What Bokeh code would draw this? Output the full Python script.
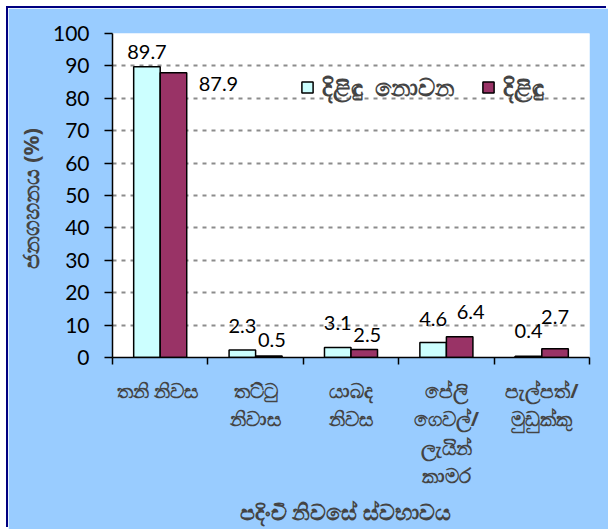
from bokeh.plotting import figure
from bokeh.models import (ColumnDataSource, Range1d, LinearAxis,
                          FixedTicker, Legend, LegendItem)
from bokeh.transform import dodge
from bokeh.embed import file_html
from bokeh.resources import INLINE

# ---- data ----
categories = ["තනි  නිවස", "තට්ටු\nනිවාස", "යාබද\nනිවස",
              "පේලි\nගෙවල්/\nලැයින්\nකාමර", "පැල්පත්/\nමුඩුක්කු"]
not_poor = [89.7, 2.3, 3.1, 4.6, 0.4]
poor = [87.9, 0.5, 2.5, 6.4, 2.7]
series_names = ["දිළිඳු  නොවන", "දිළිඳු"]
y_ticks = [0, 10, 20, 30, 40, 50, 60, 70, 80, 90, 100]
y_title = "ජනගහනය  (%)"
x_title = "පදිංචි  නිවසේ  ස්වභාවය"

# label nudges (screen px) for value labels
np_dx = [0, 0, 0, 0, 0]
np_dy = [-15, -24, -24, -24, -25]
p_dx = [45, 3, 3, 11, 0]
p_dy = [11, -16, -14, -25, -32]

NUM_FONT = "Lato"
SI_FONT = "Noto Sans"

n = len(categories)
centers = [i + 0.5 for i in range(n)]
bounds = list(range(n + 1))

src = ColumnDataSource(dict(
    xc=centers, not_poor=not_poor, poor=poor,
    np_lbl=[f"{v:.1f}" for v in not_poor], p_lbl=[f"{v:.1f}" for v in poor],
    np_dx=np_dx, np_dy=np_dy, p_dx=p_dx, p_dy=p_dy,
))

p = figure(x_range=Range1d(0, n), y_range=Range1d(0, 100),
           width=600, height=521, output_backend="svg", toolbar_location=None,
           x_axis_location=None, y_axis_location="left",
           min_border_left=104, min_border_top=25, min_border_right=19, min_border_bottom=171,
           background_fill_color="white", border_fill_color="#99CCFF",
           outline_line_color=None)
p.styles = {"margin-left": "8px", "margin-top": "8px",
            "box-shadow": "-2px -2px 0 0 #000080"}

# y axis
ya = p.yaxis[0]
ya.ticker = FixedTicker(ticks=y_ticks, minor_ticks=[])
ya.major_label_text_font = NUM_FONT
ya.major_label_text_font_size = "21px"
ya.major_label_text_color = "black"
ya.axis_line_width = 1.5
ya.axis_line_color = "black"
ya.major_tick_line_width = 1.5
ya.major_tick_out = 8
ya.major_tick_in = 0
ya.minor_tick_line_color = None
ya.major_label_standoff = 15
ya.axis_label = y_title
ya.axis_label_text_font = SI_FONT
ya.axis_label_text_font_size = "22px"
ya.axis_label_text_font_style = "bold"
ya.axis_label_standoff = 5

# grid
p.xgrid.visible = False
p.ygrid.ticker = FixedTicker(ticks=y_ticks[1:])
p.ygrid.grid_line_color = "#8c8c8c"
p.ygrid.grid_line_dash = "4 5"
p.ygrid.grid_line_width = 2

# bottom axis: labels at category centres, boundary ticks as minor ticks
xa = LinearAxis(ticker=FixedTicker(ticks=centers, minor_ticks=bounds),
                major_label_overrides={c: lab for c, lab in zip(centers, categories)},
                axis_line_color="black", axis_line_width=1.5,
                major_tick_line_color=None,
                minor_tick_line_color="black", minor_tick_line_width=1.5,
                minor_tick_out=7, minor_tick_in=0,
                major_label_text_font=SI_FONT,
                major_label_text_font_size="20px",
                major_label_text_font_style="bold",
                major_label_text_line_height=1.06,
                major_label_standoff=12,
                axis_label=x_title,
                axis_label_text_font=SI_FONT,
                axis_label_text_font_size="22px",
                axis_label_text_font_style="bold",
                axis_label_standoff=4)
p.add_layout(xa, "below")

# bars
bw = 0.278
r1 = p.vbar(x=dodge("xc", -bw / 2), top="not_poor", width=bw,
            fill_color="#CCFFFF", line_color="black", line_width=1.5, source=src)
r2 = p.vbar(x=dodge("xc", bw / 2), top="poor", width=bw,
            fill_color="#993366", line_color="black", line_width=1.5, source=src)

# value labels
p.text(x=dodge("xc", -bw / 2), y="not_poor", text="np_lbl",
       x_offset="np_dx", y_offset="np_dy", text_align="center", text_baseline="middle",
       text_font_size="20px", text_font={"value": NUM_FONT}, text_color="black", source=src)
p.text(x=dodge("xc", bw / 2), y="poor", text="p_lbl",
       x_offset="p_dx", y_offset="p_dy", text_align="center", text_baseline="middle",
       text_font_size="20px", text_font={"value": NUM_FONT}, text_color="black", source=src)

legend = Legend(items=[LegendItem(label=series_names[0], renderers=[r1]),
                       LegendItem(label=series_names[1], renderers=[r2])],
                orientation="horizontal", location=(188, 254),
                border_line_color=None, background_fill_alpha=0,
                label_text_font=SI_FONT, label_text_font_size="24px",
                label_text_font_style="bold",
                glyph_width=14, glyph_height=14, spacing=27, padding=0, margin=0,
                label_standoff=8)
p.add_layout(legend)

open("out.html", "w").write(file_html(p, INLINE))
